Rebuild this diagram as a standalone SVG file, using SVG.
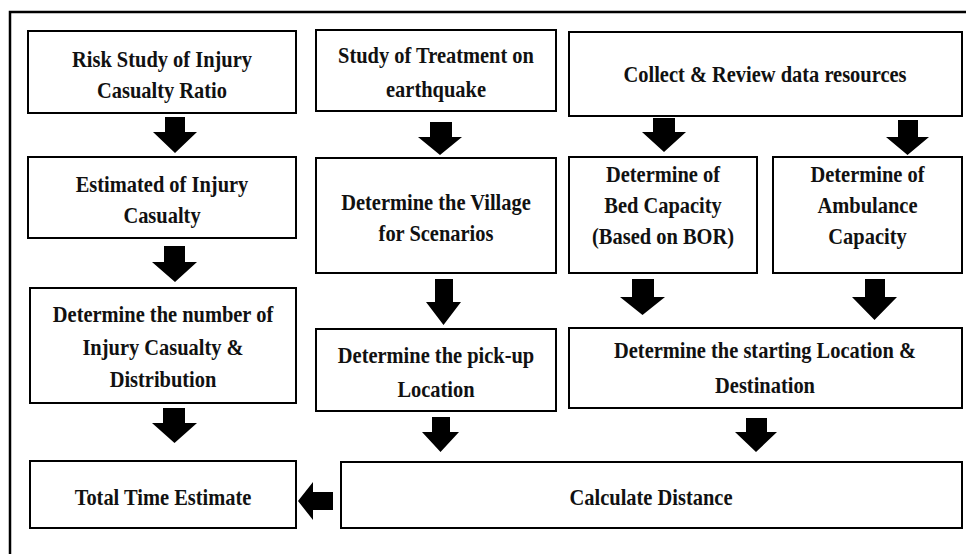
<svg xmlns="http://www.w3.org/2000/svg" width="966" height="554" viewBox="0 0 966 554">
<style>
.box{fill:#fff;stroke:#000;stroke-width:2}
.frame{fill:none;stroke:#000;stroke-width:2.5}
.arr{fill:#000}
text{font-family:"Liberation Serif","Times New Roman",serif;font-weight:bold;font-size:23.5px;fill:#111;text-anchor:middle}
</style>
<rect x="0" y="0" width="966" height="554" fill="#fff"/>
<rect class="frame" x="10" y="12" width="970" height="560"/>

<g id="n-risk"><rect class="box" x="28" y="31" width="268" height="82"/>
<text transform="translate(162 67) scale(0.87 1)">Risk Study of Injury</text>
<text transform="translate(162 98) scale(0.87 1)">Casualty Ratio</text></g>

<g id="n-estimated"><rect class="box" x="28" y="157" width="268" height="81"/>
<text transform="translate(162 192) scale(0.87 1)">Estimated of Injury</text>
<text transform="translate(162 223) scale(0.87 1)">Casualty</text></g>

<g id="n-number"><rect class="box" x="30" y="288" width="266" height="115"/>
<text transform="translate(163 322) scale(0.87 1)">Determine the number of</text>
<text transform="translate(163 355) scale(0.87 1)">Injury Casualty &amp;</text>
<text transform="translate(163 387) scale(0.87 1)">Distribution</text></g>

<g id="n-total"><rect class="box" x="30" y="461" width="266" height="67"/>
<text transform="translate(163 505) scale(0.87 1)">Total Time Estimate</text></g>

<g id="n-treatment"><rect class="box" x="316" y="30" width="240" height="81"/>
<text transform="translate(436 63) scale(0.87 1)">Study of Treatment on</text>
<text transform="translate(436 97) scale(0.87 1)">earthquake</text></g>

<g id="n-village"><rect class="box" x="316" y="158" width="240" height="115"/>
<text transform="translate(436 210) scale(0.87 1)">Determine the Village</text>
<text transform="translate(436 241) scale(0.87 1)">for Scenarios</text></g>

<g id="n-pickup"><rect class="box" x="316" y="329" width="240" height="82"/>
<text transform="translate(436 363) scale(0.87 1)">Determine the pick-up</text>
<text transform="translate(436 397) scale(0.87 1)">Location</text></g>

<g id="n-collect"><rect class="box" x="569" y="32" width="393" height="84"/>
<text transform="translate(765 82) scale(0.87 1)">Collect &amp; Review data resources</text></g>

<g id="n-bed"><rect class="box" x="569" y="157" width="188" height="116"/>
<text transform="translate(663 182) scale(0.87 1)">Determine of</text>
<text transform="translate(663 213) scale(0.87 1)">Bed Capacity</text>
<text transform="translate(663 244) scale(0.87 1)">(Based on BOR)</text></g>

<g id="n-ambulance"><rect class="box" x="773" y="157" width="189" height="116"/>
<text transform="translate(867.5 182) scale(0.87 1)">Determine of</text>
<text transform="translate(867.5 213) scale(0.87 1)">Ambulance</text>
<text transform="translate(867.5 244) scale(0.87 1)">Capacity</text></g>

<g id="n-start"><rect class="box" x="569" y="328" width="393" height="80"/>
<text transform="translate(765 358) scale(0.87 1)">Determine the starting Location &amp;</text>
<text transform="translate(765 393) scale(0.87 1)">Destination</text></g>

<g id="n-calc"><rect class="box" x="341" y="462" width="621" height="66"/>
<text transform="translate(651 505) scale(0.87 1)">Calculate Distance</text></g>

<g id="connectors">
<polygon class="arr" points="165,117 185,117 185,132 197,132 175,153 153,132 165,132"/>
<polygon class="arr" points="164,246 185,246 185,262 197,262 175,282 152,262 164,262"/>
<polygon class="arr" points="163,408 185,408 185,423 197,423 174.5,443 152,423 163,423"/>
<polygon class="arr" points="430,122 452,122 452,137 462,137 440,155 418,137 430,137"/>
<polygon class="arr" points="435,279 453,279 453,302 461,302 443.5,325 426,302 435,302"/>
<polygon class="arr" points="432,417 450,417 450,432 459,432 440.5,452 422,432 432,432"/>
<polygon class="arr" points="653,118 675,118 675,132 686,132 664,152 642,132 653,132"/>
<polygon class="arr" points="898,120 918,120 918,137 929,137 907.5,155 886,137 898,137"/>
<polygon class="arr" points="632,279 654,279 654,297 665,297 642.5,315 620,297 632,297"/>
<polygon class="arr" points="865,279 885,279 885,297 897,297 874.5,320 852,297 865,297"/>
<polygon class="arr" points="746,418 767,418 767,432 777,432 756,452 735,432 746,432"/>
<polygon class="arr" points="333,492 333,510 313,510 313,520 298,501 313,482 313,492"/>
</g>
</svg>
